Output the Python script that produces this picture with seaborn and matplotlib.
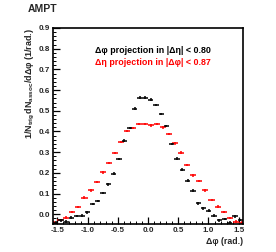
import numpy as np
import matplotlib
matplotlib.use("Agg")
import matplotlib.pyplot as plt
import seaborn as sns
from matplotlib.ticker import MultipleLocator

# Δφ projection (black), 36 bins of width π/36
phi_x = [-1.527, -1.440, -1.353, -1.265, -1.178, -1.091, -1.004, -0.916, -0.829,
         -0.742, -0.654, -0.567, -0.480, -0.393, -0.305, -0.218, -0.131, -0.044,
         0.044, 0.131, 0.218, 0.305, 0.393, 0.480, 0.567, 0.654, 0.742,
         0.829, 0.916, 1.004, 1.091, 1.178, 1.265, 1.353, 1.440, 1.527]
phi_y = [-0.040, -0.030, -0.036, -0.016, -0.008, -0.006, 0.009, 0.050, 0.065,
         0.102, 0.144, 0.196, 0.268, 0.356, 0.418, 0.510, 0.564, 0.564,
         0.554, 0.527, 0.484, 0.426, 0.340, 0.269, 0.216, 0.163, 0.114,
         0.053, 0.029, 0.018, -0.007, -0.029, -0.024, -0.040, -0.010, -0.028]
phi_xerr = 0.0436

# Δη projection (red), bins of width 0.1
eta_x = [-1.55, -1.45, -1.35, -1.25, -1.15, -1.05, -0.95, -0.85, -0.75, -0.65,
         -0.55, -0.45, -0.35, -0.25, -0.15, -0.05, 0.05, 0.15, 0.25, 0.35,
         0.45, 0.55, 0.65, 0.75, 0.85, 0.95, 1.05, 1.15, 1.25, 1.35, 1.45, 1.55]
eta_y = [-0.040, -0.027, -0.016, 0.010, 0.035, 0.080, 0.115, 0.157, 0.202, 0.247,
         0.295, 0.349, 0.402, 0.416, 0.436, 0.436, 0.430, 0.437, 0.420, 0.389,
         0.343, 0.298, 0.237, 0.188, 0.160, 0.115, 0.069, 0.037, 0.012, -0.017, -0.036, -0.040]
eta_xerr = 0.05
yerr = 0.006

sns.set_theme(style="white")
plt.rcParams["font.family"] = ["Liberation Sans", "DejaVu Sans"]
plt.rcParams["font.weight"] = "bold"
plt.rcParams["mathtext.fontset"] = "custom"
plt.rcParams["mathtext.rm"] = "Liberation Sans:bold"
plt.rcParams["mathtext.bf"] = "Liberation Sans:bold"
plt.rcParams["mathtext.it"] = "Liberation Sans:bold"
plt.rcParams["mathtext.default"] = "bf"

fig = plt.figure(figsize=(2.76, 2.52), dpi=100)
ax = fig.add_axes([53/276, 1-224/252, 190/276, 196/252])

ax.errorbar(eta_x, eta_y, xerr=eta_xerr, yerr=yerr, fmt="none",
            ecolor="#ff0000", elinewidth=1.1, capsize=0)
ax.errorbar(phi_x, phi_y, xerr=phi_xerr, yerr=yerr, fmt="none",
            ecolor="black", elinewidth=1.1, capsize=0)

ax.set_xlim(-np.pi/2, np.pi/2)
ax.set_ylim(-0.047, 0.9)

for s in ax.spines.values():
    s.set_color("black")
    s.set_linewidth(1.2)

ax.xaxis.set_major_locator(MultipleLocator(0.5))
ax.xaxis.set_minor_locator(MultipleLocator(0.1))
ax.yaxis.set_major_locator(MultipleLocator(0.1))
ax.yaxis.set_minor_locator(MultipleLocator(0.02))
ax.tick_params(axis="both", which="major", direction="in", length=5, width=0.9,
               color="black", labelsize=5.8, pad=2, bottom=True, left=True,
               top=False, right=False)
ax.tick_params(axis="both", which="minor", direction="in", length=2.5, width=0.7,
               color="black", bottom=True, left=True, top=False, right=False)
ax.set_xticklabels([f"{v:.1f}" for v in ax.get_xticks()])
ax.set_yticklabels([f"{v:.1f}" for v in ax.get_yticks()])
for lab in ax.get_xticklabels() + ax.get_yticklabels():
    lab.set_fontweight("bold")

ax.text(1.0, -0.087, "Δφ (rad.)", transform=ax.transAxes, ha="right", va="center",
        fontsize=6.3, fontweight="bold")
ax.text(-0.118, 1.0, r"$1/N_{trig}\,dN_{assoc}/d\Delta\varphi$ (1/rad.)",
        transform=ax.transAxes, rotation=90, ha="center", va="top",
        fontsize=6.5, fontweight="bold")

ax.text(0.222, 0.883, "Δφ projection in |Δη| < 0.80", transform=ax.transAxes,
        ha="left", va="center", fontsize=6.4, fontweight="bold", color="black")
ax.text(0.222, 0.823, "Δη projection in |Δφ| < 0.87", transform=ax.transAxes,
        ha="left", va="center", fontsize=6.4, fontweight="bold", color="#ff0000")

fig.text(28/276, 1-9.5/252, "AMPT", ha="left", va="center", fontsize=7.5,
         fontweight="bold")

fig.savefig("out.png", dpi=100)
